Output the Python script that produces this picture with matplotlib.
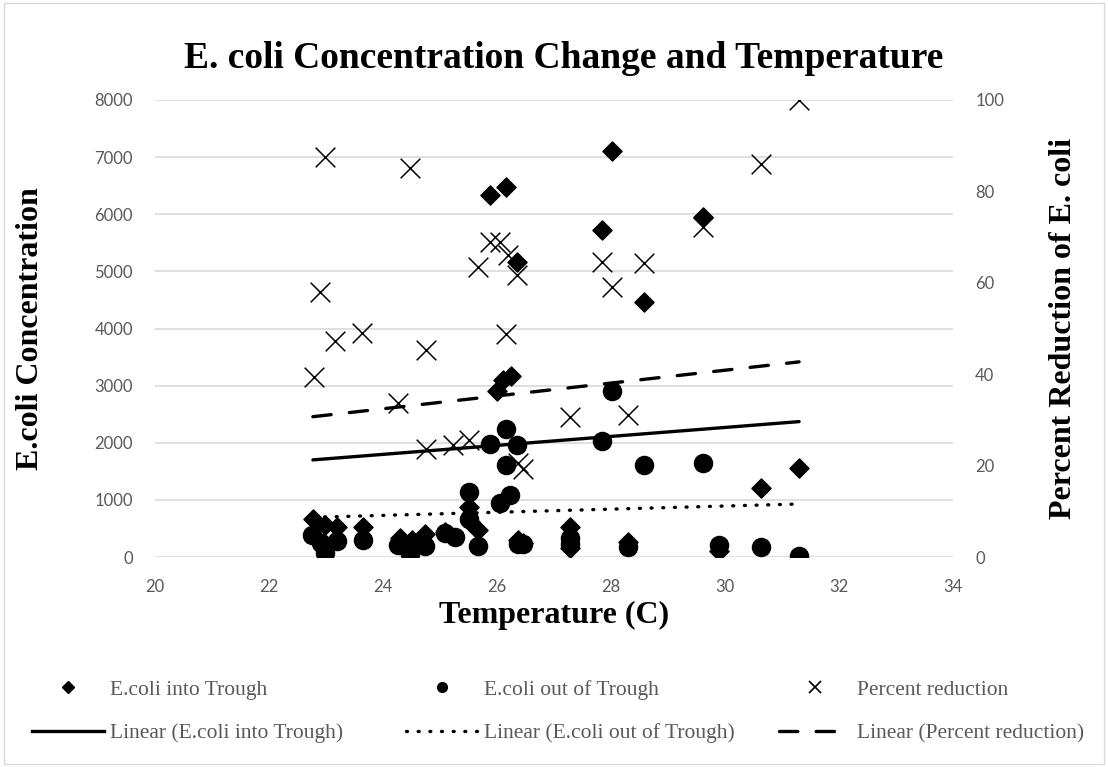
import numpy as np
import matplotlib
matplotlib.use("Agg")
import matplotlib.pyplot as plt
from matplotlib.lines import Line2D
from matplotlib.patches import Rectangle

# --- values ---
temp_into = [22.78, 22.98, 23.19, 23.65, 24.30, 24.51, 24.74, 25.09, 25.50, 25.53,
             25.67, 25.88, 26.00, 26.10, 26.15, 26.25, 26.35, 26.36, 26.46, 27.28,
             27.28, 27.84, 28.02, 28.30, 28.58, 29.62, 29.90, 30.64, 31.30]
ecoli_into = [660, 560, 520, 530, 330, 290, 400, 430, 880, 620,
              470, 6340, 2900, 3100, 6475, 3170, 5172, 290, 250, 520,
              150, 5727, 7110, 260, 4471, 5960, 100, 1203, 1564]

temp_out = [22.75, 22.91, 22.98, 23.19, 23.65, 24.27, 24.47, 24.74, 25.09, 25.26,
            25.50, 25.50, 25.67, 25.88, 26.05, 26.16, 26.16, 26.23, 26.35, 26.36,
            26.46, 27.28, 27.28, 27.84, 28.02, 28.30, 28.58, 29.62, 29.90, 30.64,
            31.30]
ecoli_out = [390, 245, 75, 275, 290, 215, 50, 195, 420, 345,
             1144, 660, 195, 1979, 940, 2236, 1611, 1086, 1961, 230,
             220, 330, 230, 2037, 2907, 170, 1611, 1641, 210, 180,
             17]

temp_pct = [22.79, 22.89, 22.98, 23.16, 23.64, 24.27, 24.47, 24.75, 24.75, 25.22,
            25.50, 25.67, 25.88, 26.05, 26.16, 26.20, 26.35, 26.36, 26.46, 27.28,
            27.84, 28.02, 28.30, 28.58, 29.62, 30.64, 31.30]
pct_reduction = [39.3, 58.0, 87.6, 47.3, 49.1, 33.8, 85.1, 45.4, 23.6, 24.5,
                 25.6, 63.5, 69.0, 69.0, 48.9, 66.1, 61.7, 20.5, 19.3, 30.7,
                 64.6, 59.1, 31.1, 64.3, 72.3, 86.1, 100.0]

# linear trendlines as drawn in the chart (end points;
# some of the source rows fall outside the axis range, so they can't be refit here)
trend_temp = [22.77, 31.30]
trend_into = [1700, 2370]
trend_out = [695, 928]
trend_pct = [30.7, 42.7]

x_ticks = [20, 22, 24, 26, 28, 30, 32, 34]
left_ticks = [0, 1000, 2000, 3000, 4000, 5000, 6000, 7000, 8000]
right_ticks = [0, 20, 40, 60, 80, 100]

serif = "Liberation Serif"
tick_font = "Lato"
gray = "#595959"
grid_gray = "#d9d9d9"
dotted = (0, (0.3, 3.2))
dashed = (0, (5.5, 5.5))

fig = plt.figure(figsize=(11.08, 7.67), dpi=100)
fig.patches.append(Rectangle((0.004, 0.004), 0.992, 0.992, transform=fig.transFigure,
                             fill=False, edgecolor=grid_gray, linewidth=1.0))

ax = fig.add_axes([155 / 1108, 1 - 557 / 767, 798 / 1108, 457 / 767])
ax2 = ax.twinx()

# primary axis: concentrations
ax.scatter(temp_into, ecoli_into, marker="D", s=95, color="black", zorder=3)
ax.scatter(temp_out, ecoli_out, marker="o", s=170, color="black", zorder=3)
ax.plot(trend_temp, trend_into, color="black", lw=2.4, solid_capstyle="round", zorder=4)
ax.plot(trend_temp, trend_out, color="black", lw=2.4, linestyle=dotted,
        dash_capstyle="round", zorder=4)

# secondary axis: percent reduction
ax2.scatter(temp_pct, pct_reduction, marker="x", s=200, color="black", linewidths=1.1, zorder=3)
ax2.plot(trend_temp, trend_pct, color="black", lw=2.4, linestyle=dashed,
         dash_capstyle="round", zorder=4)

ax.set_xlim(20, 34)
ax.set_ylim(0, 8000)
ax2.set_ylim(0, 100)
ax.set_xticks(x_ticks)
ax.set_yticks(left_ticks)
ax2.set_yticks(right_ticks)

ax.grid(axis="y", color=grid_gray, linewidth=1.2)
ax.set_axisbelow(True)
for a in (ax, ax2):
    for s in a.spines.values():
        s.set_visible(False)
    a.tick_params(length=0, labelsize=12, labelcolor=gray, pad=16)
    for lab in a.get_xticklabels() + a.get_yticklabels():
        lab.set_fontfamily(tick_font)

fig.text(0.5085, 1 - 58 / 767, "E. coli Concentration Change and Temperature", fontfamily=serif,
         fontweight="bold", fontsize=27, ha="center", va="center")
ax.set_xlabel("Temperature (C)", fontfamily=serif, fontweight="bold", fontsize=23, labelpad=4)
ax.set_ylabel("E.coli Concentration", fontfamily=serif, fontweight="bold", fontsize=23)
ax2.set_ylabel("Percent Reduction of E. coli", fontfamily=serif, fontweight="bold", fontsize=23)
ax.yaxis.set_label_coords(-110 / 798, 0.5)
ax2.yaxis.set_label_coords(1 + 96 / 798, 0.5)

# legend: three columns, marker row on top, trend row below
cols = [
    (Line2D([], [], marker="D", ms=6, color="black", lw=0), "E.coli into Trough",
     Line2D([], [], color="black", lw=2.4), "Linear (E.coli into Trough)", 32),
    (Line2D([], [], marker="o", ms=7, color="black", lw=0), "E.coli out of Trough",
     Line2D([], [], color="black", lw=2.4, linestyle=dotted, dash_capstyle="round"),
     "Linear (E.coli out of Trough)", 406),
    (Line2D([], [], marker="x", ms=8, color="black", lw=0, mew=1.2), "Percent reduction",
     Line2D([], [], color="black", lw=2.4, linestyle=dashed, dash_capstyle="round"),
     "Linear (Percent reduction)", 779),
]
for h1, l1, h2, l2, xpx in cols:
    leg = fig.legend([h1, h2], [l1, l2], loc="center left",
                     bbox_to_anchor=(xpx / 1108, 1 - 711.5 / 767), frameon=False,
                     prop={"family": serif, "size": 15.5}, handlelength=3.35,
                     handletextpad=0.27, labelspacing=1.1, borderpad=0, borderaxespad=0)
    for t in leg.get_texts():
        t.set_color(gray)

fig.savefig("out.png", dpi=100)
